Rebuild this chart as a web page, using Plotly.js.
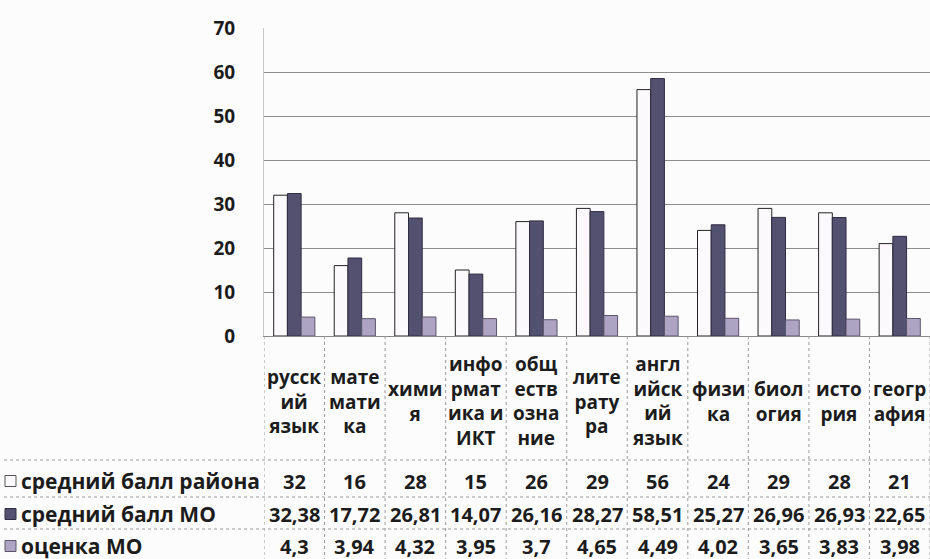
<!DOCTYPE html>
<html>
<head>
<meta charset="utf-8">
<script src="https://cdn.plot.ly/plotly-3.0.1.min.js"></script>
<style>html,body{margin:0;padding:0;background:#fdfcfd;}#chart{width:930px;height:559px;}</style>
</head>
<body>
<div id="chart"></div>
<script>
// ---- data ----
const categories = ["русский язык","математика","химия","информатика и ИКТ","обществознание","литература","английский язык","физика","биология","история","география"];
const categoryLabels = ["русск<br>ий<br>язык","мате<br>мати<br>ка","хими<br>я","инфо<br>рмат<br>ика и<br>ИКТ","общ<br>еств<br>озна<br>ние","лите<br>рату<br>ра","англ<br>ийск<br>ий<br>язык","физи<br>ка","биол<br>огия","исто<br>рия","геогр<br>афия"];
const seriesNames = ["средний балл района","средний балл МО","оценка МО"];
const districtAvg = [32,16,28,15,26,29,56,24,29,28,21];
const regionAvg = [32.38,17.72,26.81,14.07,26.16,28.27,58.51,25.27,26.96,26.93,22.65];
const regionGrade = [4.3,3.94,4.32,3.95,3.7,4.65,4.49,4.02,3.65,3.83,3.98];
const yTicks = [0,10,20,30,40,50,60,70];

// ---- styles ----
const FONT = "Open Sans, Noto Sans, sans-serif";
const TXT = "#1c1c1c";
const colors = ["#fbf9fc","#545070","#ada4c3"];
const lineColors = ["#222222","#2f2c40","#5a556b"];
const allSeries = [districtAvg, regionAvg, regionGrade];

const traces = allSeries.map((vals, i) => ({
  type: "bar",
  name: seriesNames[i],
  x: categories,
  y: vals,
  marker: {color: colors[i], line: {color: lineColors[i], width: 1}},
  hoverinfo: "x+y+name"
}));

// plot area: top px 28, bottom px 336, left px 264, width 666
const plotTop = 28, plotBottom = 336, plotH = plotBottom - plotTop;
const plotLeft = 264, plotW = 666;
const py = p => (plotBottom - p) / plotH; // pixel -> paper y
const px = p => (p - plotLeft) / plotW;   // pixel -> paper x

const annotations = [];
const shapes = [];

// category header labels
categories.forEach((c, i) => {
  annotations.push({
    xref: "x", yref: "paper", x: c, y: py(401), text: categoryLabels[i],
    showarrow: false, xanchor: "center", yanchor: "middle", align: "center",
    font: {family: FONT, size: 19, color: TXT, weight: 700}
  });
});

// table rows
const rowY = [481, 514, 546];
const fmt = v => String(v).replace(".", ",");
allSeries.forEach((vals, r) => {
  shapes.push({type: "rect", xref: "paper", yref: "paper",
    x0: px(5), x1: px(16), y0: py(rowY[r] + 5.5), y1: py(rowY[r] - 5.5),
    fillcolor: colors[r], line: {color: r === 0 ? "#555" : lineColors[r], width: 1}});
  annotations.push({
    xref: "paper", yref: "paper", x: px(19), y: py(rowY[r]),
    text: seriesNames[r],
    showarrow: false, xanchor: "left", yanchor: "middle", align: "left",
    font: {family: FONT, size: 21, color: TXT, weight: 700}
  });
  vals.forEach((v, i) => {
    annotations.push({
      xref: "x", yref: "paper", x: categories[i], y: py(rowY[r]), text: fmt(v),
      showarrow: false, xanchor: "center", yanchor: "middle",
      font: {family: FONT, size: 20, color: TXT, weight: 700}
    });
  });
});

// table grid lines
const gridCol = "#9a9a9a";
[460, 497, 529].forEach(p => {
  shapes.push({type: "line", xref: "paper", yref: "paper", x0: px(4), x1: 1, y0: py(p), y1: py(p),
    line: {color: gridCol, width: 1, dash: "dot"}});
});
for (let i = 0; i <= categories.length; i++) {
  shapes.push({type: "line", xref: "x", yref: "paper", x0: i - 0.5, x1: i - 0.5, y0: 0, y1: py(565),
    line: {color: gridCol, width: 1, dash: "dot"}});
}

const layout = {
  width: 930, height: 559,
  margin: {l: plotLeft, r: 0, t: plotTop, b: 559 - plotBottom},
  paper_bgcolor: "#fdfcfd",
  plot_bgcolor: "#fdfcfd",
  showlegend: false,
  barmode: "group",
  bargap: 0.32,
  bargroupgap: 0,
  font: {family: FONT, color: TXT},
  xaxis: {
    type: "category",
    showticklabels: false,
    showgrid: false,
    showline: true, linecolor: "#8a8a8a", linewidth: 1,
    zeroline: false,
    range: [-0.5, categories.length - 0.5]
  },
  yaxis: {
    range: [0, 70],
    tickvals: yTicks,
    showgrid: true, gridcolor: "#8c8c8c", gridwidth: 1,
    showline: true, linecolor: "#c8c8c8", linewidth: 1,
    zeroline: false,
    ticks: "",
    ticklabelstandoff: 24,
    tickfont: {family: FONT, size: 19, color: TXT, weight: 700}
  },
  annotations: annotations,
  shapes: shapes
};

Plotly.newPlot("chart", traces, layout, {displayModeBar: false, staticPlot: true});
</script>
</body>
</html>
